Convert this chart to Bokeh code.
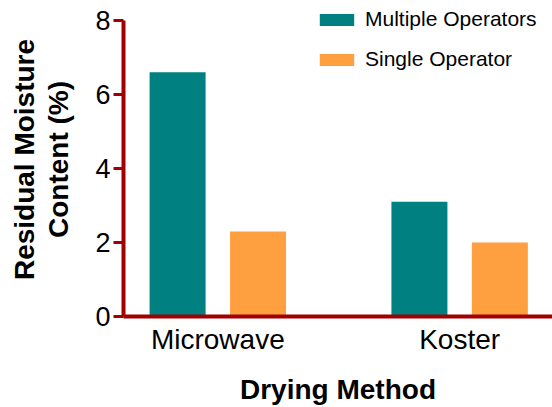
from bokeh.plotting import figure
from bokeh.models import (Range1d, FixedTicker, ColumnDataSource, Legend, LegendItem)
from bokeh.transform import dodge
from bokeh.embed import file_html
from bokeh.resources import INLINE

# ---- data ----
methods = ["Microwave", "Koster"]
multiple_operators = [6.6, 3.1]
single_operator = [2.3, 2.0]
series_names = ["Multiple Operators", "Single Operator"]
y_ticks = [0, 2, 4, 6, 8]
y_label = "Residual Moisture\nContent (%)"
x_label = "Drying Method"

# ---- style ----
TEAL = "#008080"
ORANGE = "#FFA040"
AXIS = "#A00000"
FONT = "Liberation Sans"

src = ColumnDataSource(dict(idx=list(range(len(methods))),
                            multi=multiple_operators,
                            single=single_operator))

p = figure(width=552, height=407, output_backend="svg", toolbar_location=None,
           x_range=Range1d(-0.390, 1.384), y_range=Range1d(0, 8.486),
           min_border_left=123, min_border_top=2, min_border_right=0,
           min_border_bottom=91)
p.outline_line_color = None
p.grid.visible = False
p.background_fill_color = None
p.border_fill_color = "white"

BW = 0.2316
OFF = 0.1663
r1 = p.vbar(x=dodge("idx", -OFF), top="multi", width=BW, source=src,
            fill_color=TEAL, line_color=None)
r2 = p.vbar(x=dodge("idx", OFF), top="single", width=BW, source=src,
            fill_color=ORANGE, line_color=None)

# axes
p.xaxis.ticker = FixedTicker(ticks=list(range(len(methods))))
p.xaxis.major_label_overrides = {i: m for i, m in enumerate(methods)}
p.xaxis.major_tick_line_color = None
p.xaxis.minor_tick_line_color = None
p.xaxis.axis_line_color = AXIS
p.xaxis.axis_line_width = 4
p.xaxis.major_label_text_font = FONT
p.xaxis.major_label_text_font_size = "28px"
p.xaxis.major_label_text_color = "black"
p.xaxis.major_label_standoff = 1
p.xaxis.axis_label = x_label
p.xaxis.axis_label_text_font = FONT
p.xaxis.axis_label_text_font_size = "28px"
p.xaxis.axis_label_text_font_style = "bold"
p.xaxis.axis_label_text_color = "black"
p.xaxis.axis_label_standoff = 16

p.yaxis.ticker = FixedTicker(ticks=y_ticks)
p.yaxis.bounds = (0, 8)
p.yaxis.minor_tick_line_color = None
p.yaxis.axis_line_color = AXIS
p.yaxis.axis_line_width = 4
p.yaxis.major_tick_line_color = AXIS
p.yaxis.major_tick_line_width = 3
p.yaxis.major_tick_out = 10
p.yaxis.major_tick_in = 0
p.yaxis.major_label_text_font = FONT
p.yaxis.major_label_text_font_size = "27px"
p.yaxis.major_label_text_color = "black"
p.yaxis.major_label_standoff = 3
p.yaxis.axis_label = y_label
p.yaxis.axis_label_text_font = FONT
p.yaxis.axis_label_text_font_size = "28px"
p.yaxis.axis_label_text_font_style = "bold"
p.yaxis.axis_label_text_color = "black"
p.yaxis.axis_label_text_line_height = 1.12
p.yaxis.axis_label_standoff = 18

legend = Legend(items=[LegendItem(label=series_names[0], renderers=[r1]),
                       LegendItem(label=series_names[1], renderers=[r2])],
                location=(192, 245), padding=0, border_line_color=None,
                background_fill_alpha=0, glyph_width=43, glyph_height=15,
                label_height=15, label_standoff=7, spacing=16,
                label_text_font=FONT, label_text_font_size="21px",
                label_text_color="black")
p.add_layout(legend, "center")

open("out.html", "w").write(file_html(p, INLINE))
